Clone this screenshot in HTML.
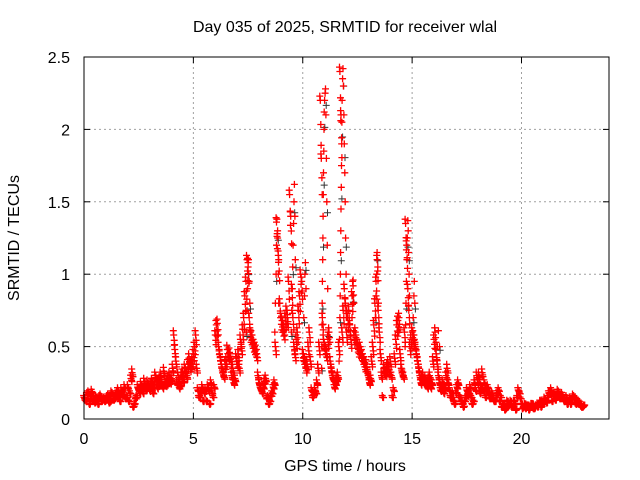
<!DOCTYPE html>
<html><head><meta charset="utf-8"><style>
body{margin:0;background:#fff}
svg{display:block;font-family:"Liberation Sans",sans-serif}
</style></head><body>
<svg id="chart" width="640" height="480" viewBox="0 0 640 480">
<text x="345" y="32" font-size="16" text-anchor="middle">Day 035 of 2025, SRMTID for receiver wlal</text>
<text x="345" y="471" font-size="16" text-anchor="middle">GPS time / hours</text>
<text transform="translate(19,238) rotate(-90)" font-size="16" text-anchor="middle">SRMTID / TECUs</text>
<g id="grid"></g>
<g id="ticks"></g>
<g id="marks"></g>
<rect x="84" y="57" width="525" height="362" fill="none" stroke="#000" stroke-width="1"/>
</svg>
<script>
const xTicks=[0,5,10,15,20];
const yTicks=[0,0.5,1,1.5,2,2.5];
const yTickLabels=["0","0.5","1","1.5","2","2.5"];
const seriesA=[.15,.12,.18,.14,.16,.11,.13,.15,.12,.14,
.13,.16,.12,.17,.14,.18,.15,.20,.16,.14,
.22,.18,.32,.10,.15,.20,.24,.18,.22,.25,
.20,.26,.22,.28,.24,.30,.22,.27,.25,.30,
.28,.58,.40,.30,.24,.32,.35,.30,.42,.38,
.45,.58,.20,.15,.22,.18,.12,.20,.25,.15,
.58,.66,.45,.35,.30,.40,.45,.42,.35,.28,
.40,.35,.50,.70,.95,1.08,.60,.55,.50,.45,
.25,.20,.22,.28,.15,.12,.18,.25,1.36,1.10,
.70,.65,.70,.72,1.55,.90,.50,.55,.75,1.00,
.45,.40,.38,.60,.20,.17,.18,.35,2.20,.70,
.50,.45,.60,.35,.28,.25,.30,2.40,.60,.90,
.60,.75,.55,.92,.60,.52,.50,.45,.40,.38,
.30,.28,.50,.80,1.10,.60,.30,.35,.32,.38,
.40,.15,.42,.65,.70,.35,.30,1.35,.90,.50,
.60,.55,.45,.35,.25,.30,.28,.22,.30,.25,
.55,.45,.30,.20,.25,.22,.35,.20,.15,.12,
.18,.25,.15,.10,.12,.20,.18,.15,.12,.20,
.25,.18,.32,.25,.20,.18,.15,.15,.12,.18,
.12,.08,.10,.07,.09,.12,.08,.10,.15,.18,
.10,.08,.07,.09,.08,.10,.07,.09,.10,.08,
.10,.12,.15,.18,.12,.17,.15,.18,.16,.14,
.12,.10,.14,.13,.15,.10,.12,.09,.08];
const seriesB=[.13,.17,.10,.19,.12,.15,.10,.16,.13,.12,
.15,.11,.18,.13,.16,.20,.12,.17,.22,.15,
.12,.28,.08,.14,.22,.18,.20,.26,.21,.23,
.24,.18,.30,.22,.27,.25,.33,.24,.28,.26,
.35,.48,.25,.22,.30,.27,.33,.38,.36,.40,
.50,.35,.15,.18,.12,.20,.22,.10,.18,.22,
.65,.50,.40,.32,.38,.48,.46,.30,.25,.42,
.45,.55,.62,.85,1.10,.70,.58,.52,.48,.30,
.22,.18,.26,.14,.10,.16,.22,.50,1.25,.80,
.68,.62,.75,.95,1.40,.70,.45,.60,.85,.95,
.42,.35,.50,.40,.15,.20,.25,.50,1.80,.55,
.48,.55,.40,.30,.22,.28,.50,2.10,.75,.80,
.70,.65,.85,.58,.55,.48,.47,.42,.36,.33,
.25,.40,.65,.95,.75,.45,.15,.33,.36,.34,
.30,.20,.55,.68,.45,.32,.60,1.20,.75,.55,
.58,.50,.40,.30,.28,.26,.24,.27,.22,.40,
.60,.38,.25,.22,.18,.30,.25,.15,.18,.10,
.22,.15,.12,.08,.15,.16,.22,.10,.25,.30,
.30,.22,.20,.15,.22,.14,.18,.12,.15,.20,
.15,.10,.06,.12,.10,.08,.12,.06,.20,.14,
.07,.10,.09,.06,.10,.07,.09,.08,.12,.10,
.14,.11,.18,.20,.16,.13,.19,.14,.17,.12,
.15,.12,.10,.16,.11,.13,.10,.08,.09];
const spikeTimes=[
10.86,10.87,10.88,10.89,10.9,10.91,10.92,10.93,10.94,10.95,10.96,10.97,10.98,11.0,11.02,11.04,11.06,11.08,11.1,11.12,11.14,11.16,
11.66,11.68,11.7,11.71,11.72,11.73,11.74,11.75,11.76,11.77,11.78,11.79,11.8,11.82,11.84,11.86,11.88,11.9,11.92,11.94,11.96,11.98,12.0,
9.48,9.5,9.52,9.54,9.56,9.58,9.6,9.62,9.64,9.66,
8.72,8.75,8.78,8.8,8.82,8.85,8.88,8.9,
7.42,7.45,7.48,7.5,7.52,7.55,7.58,
14.68,14.7,14.72,14.74,14.76,14.78,14.8,14.82,14.84,14.86,14.88,
13.32,13.35,13.38,13.4,13.43,13.46,
10.05,10.08,10.1,10.12,10.15,
12.25,12.28,12.3,12.33,15.05,15.08,15.1,15.12,16.15,16.2,16.25];
const spikeValues=[
.35,.5,.65,.8,.95,1.1,1.25,1.4,1.55,1.7,1.85,2.0,2.12,2.2,2.25,2.28,2.1,1.8,1.5,1.2,.9,.6,
.4,.55,.7,.85,1.0,1.15,1.3,1.45,1.6,1.75,1.9,2.05,2.2,2.35,2.42,2.3,2.1,1.9,1.7,1.5,1.25,1.0,.75,
.6,.75,.9,1.05,1.2,1.35,1.5,1.62,1.4,1.1,
.6,.8,1.0,1.2,1.38,1.3,1.0,.8,
.6,.75,.9,1.05,1.1,.95,.8,
.5,.65,.8,.95,1.1,1.25,1.37,1.3,1.15,1.0,.85,
.7,.85,1.0,1.15,1.05,.8,
.7,.85,1.0,1.08,.9,
.7,.85,.96,.8,.7,.85,.95,.8,.5,.61,.5];
const X0=84,X1=609,Y0=419,Y1=57;
function xs(t){return X0+(X1-X0)*t/24;}
function ys(v){return Y0-(Y0-Y1)*v/2.5;}
const NS="http://www.w3.org/2000/svg";
const grid=document.getElementById('grid'),ticks=document.getElementById('ticks'),marks=document.getElementById('marks');
function mk(tag,attrs,parent){const e=document.createElementNS(NS,tag);for(const k in attrs)e.setAttribute(k,attrs[k]);parent.appendChild(e);return e;}
xTicks.forEach(t=>{
  const x=xs(t);
  if(t>0){const g=mk('line',{x1:x,x2:x,y1:Y1,y2:Y0,stroke:'#a0a0a0','stroke-dasharray':'2,3'},grid);
  
  }
  mk('line',{x1:x,x2:x,y1:Y0,y2:Y0-6,stroke:'#000'},ticks);
  mk('line',{x1:x,x2:x,y1:Y1,y2:Y1+6,stroke:'#000'},ticks);
  const l=mk('text',{x:x,y:444,'font-size':16,'text-anchor':'middle'},ticks);
  l.textContent=String(t);
  
  
});
yTicks.forEach((v,i)=>{
  const y=ys(v);
  if(v>0&&v<2.5){const g=mk('line',{x1:X0,x2:X1,y1:y,y2:y,stroke:'#a0a0a0','stroke-dasharray':'2,3'},grid);
  
  }
  mk('line',{x1:X0,x2:X0+6,y1:y,y2:y,stroke:'#000'},ticks);
  mk('line',{x1:X1,x2:X1-6,y1:y,y2:y,stroke:'#000'},ticks);
  const l=mk('text',{x:70,y:y+6,'font-size':16,'text-anchor':'end'},ticks);
  l.textContent=yTickLabels[i];
  
  
});
function plus(t,v){const x=xs(t),y=ys(v);return `M${(x-3.5).toFixed(1)} ${y.toFixed(1)}h7M${x.toFixed(1)} ${(y-3.5).toFixed(1)}v7`;}
function offsets(arr,t0){let d='';arr.forEach((v,i)=>{const t=t0+i*0.1;
  d+=plus(t,v);d+=plus(t+0.025,v*0.92+0.01);d+=plus(t-0.02,v+Math.min(0.03,v*0.08));d+=plus(t+0.04,v*0.85+0.02);});return d;}
let dk='';spikeTimes.forEach((t,i)=>{if(i%3===0)dk+=plus(t+0.03,spikeValues[i]*0.95);});
const pk=mk('path',{d:dk,stroke:'#333',fill:'none','stroke-width':1},marks);


const pa=mk('path',{d:offsets(seriesA,0),stroke:'#ff0000',fill:'none','stroke-width':1.3},marks);


const pb=mk('path',{d:offsets(seriesB,0.05),stroke:'#ff0000',fill:'none','stroke-width':1.3},marks);


let ds='';spikeTimes.forEach((t,i)=>{ds+=plus(t,spikeValues[i]);});
const ps=mk('path',{d:ds,stroke:'#ff0000',fill:'none','stroke-width':1.3},marks);


</script>
</body></html>
